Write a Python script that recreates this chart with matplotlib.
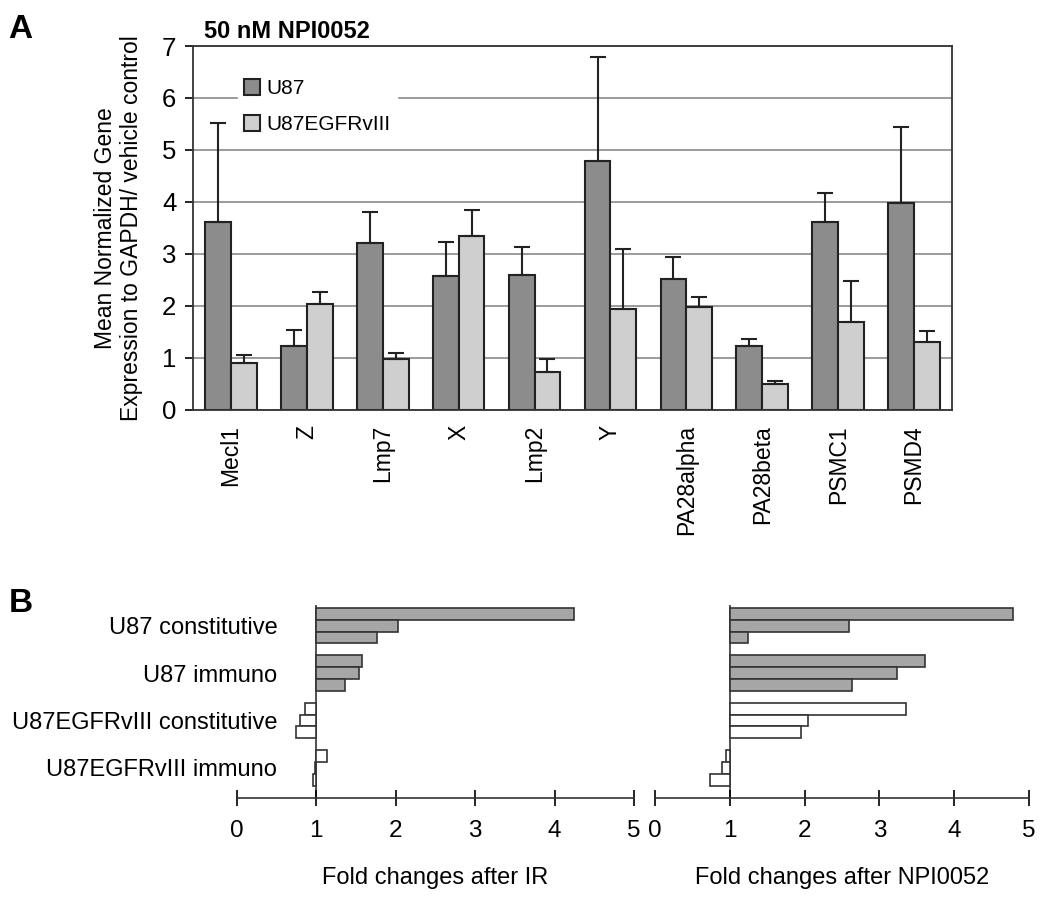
import numpy as np
import matplotlib.pyplot as plt

plt.rcParams['font.family'] = ['Liberation Sans', 'DejaVu Sans']

# Panel A data
genes = ['Mecl1', 'Z', 'Lmp7', 'X', 'Lmp2', 'Y', 'PA28alpha', 'PA28beta', 'PSMC1', 'PSMD4']
u87 = [3.62, 1.23, 3.21, 2.58, 2.60, 4.79, 2.52, 1.23, 3.62, 3.98]
u87_err = [1.90, 0.31, 0.60, 0.65, 0.53, 2.00, 0.42, 0.14, 0.55, 1.46]
egfr = [0.90, 2.04, 0.98, 3.35, 0.73, 1.94, 1.98, 0.50, 1.69, 1.31]
egfr_err = [0.16, 0.23, 0.12, 0.50, 0.25, 1.16, 0.19, 0.06, 0.79, 0.21]

# Panel B data (fold changes, three genes per group)
groups = ['U87 constitutive', 'U87 immuno', 'U87EGFRvIII constitutive', 'U87EGFRvIII immuno']
fold_ir = [[4.25, 2.03, 1.76], [1.57, 1.54, 1.36], [0.86, 0.79, 0.74], [1.14, 0.98, 0.96]]
fold_npi = [[4.79, 2.59, 1.25], [3.61, 3.23, 2.63], [3.35, 2.04, 1.95], [0.95, 0.90, 0.73]]
group_colors = ['#a6a6a6', '#a6a6a6', 'white', 'white']

fig = plt.figure(figsize=(10.5, 9.02), dpi=100)

# ---- Panel A ----
ax = fig.add_axes([0.1838, 0.5455, 0.7229, 0.4035])
x = np.arange(len(genes))
w = 0.34
ax.set_axisbelow(True)
ax.yaxis.grid(True, color='#8a8a8a', linewidth=1.2)
ax.bar(x - w / 2, u87, w, color='#8c8c8c', edgecolor='#222222', linewidth=1.5,
       yerr=[np.zeros(len(u87)), u87_err], capsize=6,
       error_kw=dict(ecolor='#222222', elinewidth=1.5, capthick=1.5), label='U87')
ax.bar(x + w / 2, egfr, w, color='#cfcfcf', edgecolor='#222222', linewidth=1.5,
       yerr=[np.zeros(len(egfr)), egfr_err], capsize=6,
       error_kw=dict(ecolor='#222222', elinewidth=1.5, capthick=1.5), label='U87EGFRvIII')
ax.set_xlim(-0.5, len(genes) - 0.5)
ax.set_ylim(0, 7)
ax.set_yticks(range(0, 8))
ax.set_xticks(x, genes, rotation=90, fontsize=16.5)
ax.tick_params(axis='x', length=0, pad=11)
ax.tick_params(axis='y', labelsize=18.5, length=6, width=1.2, direction='out', pad=6)
for s in ax.spines.values():
    s.set_color('#333333')
    s.set_linewidth(1.3)
ax.set_ylabel('Mean Normalized Gene\nExpression to GAPDH/ vehicle control', fontsize=16.5,
              labelpad=14, linespacing=1.15)
ax.set_title('50 nM NPI0052', fontsize=17, fontweight='bold', loc='left', x=0.015, pad=6)
leg = ax.legend(loc='upper left', bbox_to_anchor=(0.045, 0.955), frameon=True, fontsize=15,
                handlelength=0.8, handleheight=0.8, handletextpad=0.3, labelspacing=0.8,
                borderpad=0.3, edgecolor='white', fancybox=False)
leg.get_frame().set_facecolor('white')
leg.get_frame().set_alpha(1)

fig.text(0.008, 0.958, 'A', fontsize=24, fontweight='bold')
fig.text(0.008, 0.322, 'B', fontsize=24, fontweight='bold')


# ---- Panel B ----
def fold_panel(rect, data, xlabel, show_labels):
    axb = fig.add_axes(rect)
    centers = []
    for g, vals in enumerate(data):
        pos = [g * 4 + k for k in range(3)]
        centers.append(g * 4 + 1)
        axb.barh(pos, [v - 1 for v in vals], height=1.0, left=1,
                 color=group_colors[g], edgecolor='#333333', linewidth=1.2)
    axb.set_ylim(15.55, -0.75)
    axb.set_xlim(0, 5)
    axb.axvline(1, color='#333333', linewidth=1.2, zorder=0)
    for s in ['top', 'right', 'left']:
        axb.spines[s].set_visible(False)
    axb.spines['bottom'].set_color('#333333')
    axb.spines['bottom'].set_linewidth(1.2)
    axb.set_xticks(range(0, 6))
    axb.tick_params(axis='x', direction='inout', length=12, width=1.2, labelsize=17.5, pad=10)
    axb.set_xlabel(xlabel, fontsize=17, labelpad=18)
    if show_labels:
        axb.set_yticks(centers, groups, fontsize=17)
        axb.tick_params(axis='y', length=0, pad=-29)
    else:
        axb.set_yticks([])
    return axb


fold_panel([0.2257, 0.1153, 0.378, 0.214], fold_ir, 'Fold changes after IR', True)
fold_panel([0.6238, 0.1153, 0.3562, 0.214], fold_npi, 'Fold changes after NPI0052', False)

fig.savefig('out.png', dpi=100)
